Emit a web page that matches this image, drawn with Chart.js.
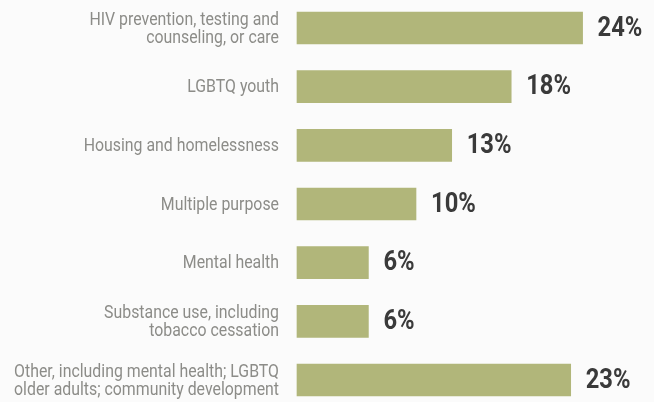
<!DOCTYPE html>
<html>
<head>
<meta charset="utf-8">
<script src="https://cdn.jsdelivr.net/npm/chart.js@4.4.1/dist/chart.umd.min.js"></script>
<style>
  html, body { margin: 0; padding: 0; background: #fbfbfb; }
  #wrap { width: 654px; height: 402px; }
</style>
</head>
<body>
<div id="wrap"><canvas id="c" width="654" height="402"></canvas></div>
<script>
const categories = [
  ["HIV prevention, testing and", "counseling, or care"],
  ["LGBTQ youth"],
  ["Housing and homelessness"],
  ["Multiple purpose"],
  ["Mental health"],
  ["Substance use, including", "tobacco cessation"],
  ["Other, including mental health; LGBTQ", "older adults; community development"]
];
const shares = [24, 18, 13, 10, 6, 6, 23];

const FONT = "Roboto, 'Liberation Sans', sans-serif";
const LABEL_SQUEEZE = 0.835;
const VALUE_SQUEEZE = 0.88;

const textPlugin = {
  id: 'textPlugin',
  afterDatasetsDraw(chart) {
    const ctx = chart.ctx;
    const yScale = chart.scales.y;
    const meta = chart.getDatasetMeta(0);
    // category labels (condensed)
    ctx.save();
    ctx.font = "19px " + FONT;
    ctx.fillStyle = '#8c8c88';
    ctx.textAlign = 'right';
    ctx.textBaseline = 'middle';
    categories.forEach((lines, i) => {
      const cy = yScale.getPixelForValue(i);
      const lh = 17.5;
      const start = cy - (lines.length - 1) * lh / 2 + 1;
      lines.forEach((ln, j) => {
        ctx.save();
        ctx.translate(yScale.right - 18, start + j * lh);
        ctx.scale(LABEL_SQUEEZE, 1);
        ctx.fillText(ln, 0, 0);
        ctx.restore();
      });
    });
    ctx.restore();
    // value labels
    ctx.save();
    ctx.font = "bold 27px " + FONT;
    ctx.fillStyle = '#3a3a3a';
    ctx.textAlign = 'left';
    ctx.textBaseline = 'middle';
    meta.data.forEach((bar, i) => {
      ctx.save();
      ctx.translate(bar.x + 15, bar.y + 1);
      ctx.scale(VALUE_SQUEEZE, 1);
      ctx.fillText(shares[i] + '%', 0, 0);
      ctx.restore();
    });
    ctx.restore();
  }
};

new Chart(document.getElementById('c'), {
  type: 'bar',
  data: {
    labels: categories.map(l => l.join(' ')),
    datasets: [{
      data: shares,
      backgroundColor: '#b1b67a',
      borderWidth: 0,
      barThickness: 32,
      clip: false
    }]
  },
  options: {
    indexAxis: 'y',
    responsive: false,
    animation: false,
    layout: { padding: { top: 28, bottom: 22, left: 0, right: 0 } },
    plugins: { legend: { display: false }, tooltip: { enabled: false } },
    scales: {
      x: { display: false, min: 0, max: 30 },
      y: {
        offset: false,
        grid: { display: false, drawTicks: false },
        border: { display: false },
        ticks: { display: false },
        afterFit(scale) {
          scale.width = 297;
          scale.paddingTop = 0;
          scale.paddingBottom = 0;
        }
      }
    }
  },
  plugins: [textPlugin]
});
</script>
</body>
</html>
